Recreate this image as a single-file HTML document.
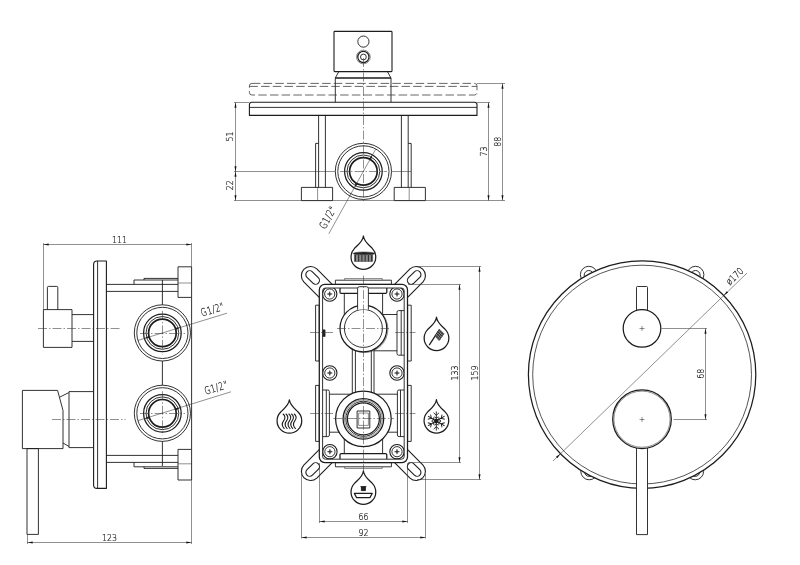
<!DOCTYPE html>
<html lang="en"><head><meta charset="utf-8"><title>Technical drawing</title>
<style>
html,body{margin:0;padding:0;background:#fff}
body{width:800px;height:565px;overflow:hidden}
svg{display:block;filter:grayscale(1)}
svg *{fill:none;stroke:#1c1c1c;stroke-linecap:butt;stroke-linejoin:round}
.k{stroke-width:1.25}
.kk{stroke-width:1.7}
.m{stroke-width:.9}
.n{stroke-width:.75}
.n2{stroke-width:1.1}
.t{stroke-width:.55;stroke:#333}
.c{stroke-width:.55;stroke:#333;stroke-dasharray:9 2 1.5 2}
.d{stroke-width:.75;stroke:#333;stroke-dasharray:8.5 3.2}
svg .a{fill:#111;stroke:none}
svg text{fill:#111;stroke:none;font-family:"DejaVu Sans Light","DejaVu Sans ExtraLight","Liberation Sans",sans-serif;font-weight:200;stroke:#111;stroke-width:.2}
</style></head><body>
<svg width="800" height="565" viewBox="0 0 800 565">
<rect class="n2" x="334" y="31.4" width="58" height="40.2" rx="0.8"/>
<circle class="m" cx="363.4" cy="41.6" r="5.6"/>
<circle class="t" cx="363.4" cy="57" r="6.9"/>
<circle class="k" cx="363.4" cy="57" r="5.6"/>
<circle class="m" cx="363.4" cy="57" r="2.9"/>
<path class="m" d="M338.8 71.6L335.3 78V102.2M387.4 71.6L391 78V102.2"/>
<line class="kk" x1="335.3" y1="78" x2="391" y2="78"/>
<rect class="d" x="249.4" y="83.4" width="227.6" height="11.6" rx="2.5"/>
<line class="d" x1="249.4" y1="86.4" x2="477" y2="86.4"/>
<path class="n2" d="M249.4 115.4V104.7Q249.4 102.2 251.9 102.2H474.5Q477 102.2 477 104.7V115.4Z"/>
<line class="m" x1="249.4" y1="107.4" x2="477" y2="107.4"/>
<path class="m" d="M318.6 115.4V187.4M325.4 115.4V187.4"/>
<path class="m" d="M318.6 143.4H315.6V187.4"/>
<rect class="m" x="301.4" y="187.4" width="31.2" height="13.2"/>
<line class="t" x1="317.6" y1="187.4" x2="317.6" y2="200.6"/>
<path class="m" d="M408.2 115.4V187.4M401.4 115.4V187.4"/>
<path class="m" d="M408.2 143.4H411.2V187.4"/>
<rect class="m" x="394.2" y="187.4" width="31.2" height="13.2"/>
<line class="t" x1="409.2" y1="187.4" x2="409.2" y2="200.6"/>
<line class="t" x1="234" y1="171.5" x2="411" y2="171.5"/>
<circle class="m" cx="363.4" cy="171.4" r="28.1" style="fill:#fff"/>
<circle class="m" cx="363.4" cy="171.4" r="25.6"/>
<circle class="k" cx="363.4" cy="171.4" r="18.8"/>
<circle class="m" cx="363.4" cy="171.4" r="16.4"/>
<circle class="kk" cx="363.4" cy="171.4" r="13.8"/>
<path class="a" d="M372.39 155.12L371.13 159.68L369.2 158.61Z"/>
<path class="a" d="M354.41 187.68L355.67 183.12L357.6 184.19Z"/>
<line class="c" x1="363.5" y1="58" x2="363.5" y2="201"/>
<line class="c" x1="340" y1="171.5" x2="387" y2="171.5"/>
<line class="t" x1="234" y1="102.5" x2="249" y2="102.5"/>
<line class="t" x1="234" y1="200.5" x2="505" y2="200.5"/>
<line class="t" x1="235.5" y1="102.5" x2="235.5" y2="200.5"/>
<path class="a" d="M235.5 102.5L236.5 107.7L234.5 107.7Z"/>
<path class="a" d="M235.5 171.5L234.5 166.3L236.5 166.3Z"/>
<path class="a" d="M235.5 171.5L236.5 176.7L234.5 176.7Z"/>
<path class="a" d="M235.5 200.5L234.5 195.3L236.5 195.3Z"/>
<text transform="translate(233.4 136.6) rotate(-90) scale(0.82 1)" font-size="9.6" text-anchor="middle">51</text>
<text transform="translate(233.4 185.3) rotate(-90) scale(0.82 1)" font-size="9.6" text-anchor="middle">22</text>
<line class="t" x1="477" y1="102.5" x2="490" y2="102.5"/>
<line class="t" x1="477" y1="83.5" x2="505" y2="83.5"/>
<line class="t" x1="488.5" y1="102.5" x2="488.5" y2="200.5"/>
<line class="t" x1="502.5" y1="83.5" x2="502.5" y2="200.5"/>
<path class="a" d="M488.5 102.5L489.5 107.7L487.5 107.7Z"/>
<path class="a" d="M488.5 200.5L487.5 195.3L489.5 195.3Z"/>
<path class="a" d="M502.5 83.5L503.5 88.7L501.5 88.7Z"/>
<path class="a" d="M502.5 200.5L501.5 195.3L503.5 195.3Z"/>
<text transform="translate(486.8 151.4) rotate(-90) scale(0.82 1)" font-size="9.6" text-anchor="middle">73</text>
<text transform="translate(500.8 141.8) rotate(-90) scale(0.82 1)" font-size="9.6" text-anchor="middle">88</text>
<line class="t" x1="375.6" y1="149.3" x2="328.8" y2="233.8"/>
<text transform="translate(331 219.2) rotate(-61) scale(0.72 1)" font-size="10.6" text-anchor="middle" letter-spacing="0.7">G1/2"</text>
<path class="n2" d="M93.6 264.5Q93.6 261 97.1 261H106.4V488.4H97.1Q93.6 488.4 93.6 484.9Z"/>
<line class="m" x1="97.6" y1="261" x2="97.6" y2="488.4"/>
<path class="m" d="M47.4 309.6V287.4Q47.4 286.4 48.4 286.4H56.8Q57.8 286.4 57.8 287.4V309.6"/>
<rect class="m" x="43.4" y="309.6" width="28.6" height="37.8"/>
<path class="m" d="M72 314.6H93.6M72 341.4H93.6"/>
<line class="c" x1="38" y1="328.5" x2="120" y2="328.5"/>
<path class="m" d="M22.4 390.4H57.6L63 410.5V448.6H22.4Z"/>
<path class="m" d="M60 397L68.8 392.6M63 443L69 446.5"/>
<path class="m" d="M93.6 391.6H69V447.6H93.6"/>
<rect class="m" x="27" y="448.6" width="11.4" height="85.8"/>
<line class="c" x1="52" y1="419.5" x2="125.6" y2="419.5"/>
<line class="m" x1="106.4" y1="284.4" x2="178" y2="284.4"/>
<line class="m" x1="106.4" y1="291.4" x2="178" y2="291.4"/>
<path class="m" d="M134 284.4V280H178M144 280V278.4H178"/>
<rect class="m" x="178" y="266.8" width="13.6" height="30.6"/>
<line class="t" x1="178" y1="283" x2="191.6" y2="283"/>
<line class="m" x1="106.4" y1="462.4" x2="178" y2="462.4"/>
<line class="m" x1="106.4" y1="455.4" x2="178" y2="455.4"/>
<path class="m" d="M134 462.4V466.8H178M144 466.8V468.4H178"/>
<rect class="m" x="178" y="449.4" width="13.6" height="30.6"/>
<line class="t" x1="178" y1="463.8" x2="191.6" y2="463.8"/>
<line class="m" x1="191.6" y1="297.4" x2="191.6" y2="449.4"/>
<line class="m" x1="162.4" y1="280" x2="162.4" y2="466"/>
<circle class="m" cx="162.4" cy="332.9" r="28.1" style="fill:#fff"/>
<circle class="m" cx="162.4" cy="332.9" r="25.6"/>
<circle class="k" cx="162.4" cy="332.9" r="18.8"/>
<circle class="m" cx="162.4" cy="332.9" r="16.4"/>
<circle class="kk" cx="162.4" cy="332.9" r="13.8"/>
<path class="a" d="M180.19 327.46L176.11 329.86L175.47 327.75Z"/>
<path class="a" d="M144.61 338.34L148.69 335.94L149.33 338.05Z"/>
<line class="c" x1="162.5" y1="310.9" x2="162.5" y2="354.9"/>
<line class="c" x1="140" y1="333.5" x2="185" y2="333.5"/>
<circle class="m" cx="162.4" cy="413.3" r="28.1" style="fill:#fff"/>
<circle class="m" cx="162.4" cy="413.3" r="25.6"/>
<circle class="k" cx="162.4" cy="413.3" r="18.8"/>
<circle class="m" cx="162.4" cy="413.3" r="16.4"/>
<circle class="kk" cx="162.4" cy="413.3" r="13.8"/>
<path class="a" d="M180.19 407.86L176.11 410.26L175.47 408.15Z"/>
<path class="a" d="M144.61 418.74L148.69 416.34L149.33 418.45Z"/>
<line class="c" x1="162.5" y1="391.3" x2="162.5" y2="435.3"/>
<line class="c" x1="140" y1="413.5" x2="185" y2="413.5"/>
<line class="t" x1="138" y1="340.4" x2="227" y2="313.2"/>
<text transform="translate(213.6 313) rotate(-17) scale(0.72 1)" font-size="10.6" text-anchor="middle" letter-spacing="0.7">G1/2"</text>
<line class="t" x1="138" y1="420.6" x2="231" y2="391.8"/>
<text transform="translate(217.2 391.2) rotate(-17) scale(0.72 1)" font-size="10.6" text-anchor="middle" letter-spacing="0.7">G1/2"</text>
<line class="t" x1="43.5" y1="243" x2="43.5" y2="309.6"/>
<line class="t" x1="191.5" y1="243" x2="191.5" y2="266.8"/>
<line class="t" x1="43.5" y1="244.5" x2="191.5" y2="244.5"/>
<path class="a" d="M43.5 244.5L48.7 243.5L48.7 245.5Z"/>
<path class="a" d="M191.5 244.5L186.3 245.5L186.3 243.5Z"/>
<text transform="translate(119.4 242.6) rotate(0) scale(0.82 1)" font-size="9.6" text-anchor="middle">111</text>
<line class="t" x1="27.5" y1="534.4" x2="27.5" y2="544"/>
<line class="t" x1="191.5" y1="480" x2="191.5" y2="544"/>
<line class="t" x1="27.5" y1="542.5" x2="191.5" y2="542.5"/>
<path class="a" d="M27.5 542.5L32.7 541.5L32.7 543.5Z"/>
<path class="a" d="M191.5 542.5L186.3 543.5L186.3 541.5Z"/>
<text transform="translate(109.4 541.2) rotate(0) scale(0.82 1)" font-size="9.6" text-anchor="middle">123</text>
<g transform="translate(363.4 373.5) scale(1 1) translate(-363.4 -373.5)">
<path class="n2" d="M407.6 297.3L423 281.9A9.2 9.2 0 0 0 410 268.9L394.6 284.3" style="fill:#fff"/>
<path class="n2" d="M414.4 271.85A3.85 3.85 0 0 1 419.8 277.35L413.9 283.15A3.85 3.85 0 0 1 408.5 277.65Z"/>
</g>
<g transform="translate(363.4 373.5) scale(1 -1) translate(-363.4 -373.5)">
<path class="n2" d="M407.6 297.3L423 281.9A9.2 9.2 0 0 0 410 268.9L394.6 284.3" style="fill:#fff"/>
<path class="n2" d="M414.4 271.85A3.85 3.85 0 0 1 419.8 277.35L413.9 283.15A3.85 3.85 0 0 1 408.5 277.65Z"/>
</g>
<g transform="translate(363.4 373.5) scale(-1 1) translate(-363.4 -373.5)">
<path class="n2" d="M407.6 297.3L423 281.9A9.2 9.2 0 0 0 410 268.9L394.6 284.3" style="fill:#fff"/>
<path class="n2" d="M414.4 271.85A3.85 3.85 0 0 1 419.8 277.35L413.9 283.15A3.85 3.85 0 0 1 408.5 277.65Z"/>
</g>
<g transform="translate(363.4 373.5) scale(-1 -1) translate(-363.4 -373.5)">
<path class="n2" d="M407.6 297.3L423 281.9A9.2 9.2 0 0 0 410 268.9L394.6 284.3" style="fill:#fff"/>
<path class="n2" d="M414.4 271.85A3.85 3.85 0 0 1 419.8 277.35L413.9 283.15A3.85 3.85 0 0 1 408.5 277.65Z"/>
</g>
<g transform="translate(0 373.5) scale(1 1) translate(0 -373.5)">
<rect class="m" x="335.4" y="280.2" width="56" height="4.2" style="fill:#fff"/>
<path class="t" d="M344.6 280.2V278.5H382.2V280.2"/>
</g>
<g transform="translate(0 373.5) scale(1 -1) translate(0 -373.5)">
<rect class="m" x="335.4" y="280.2" width="56" height="4.2" style="fill:#fff"/>
<path class="t" d="M344.6 280.2V278.5H382.2V280.2"/>
</g>
<g transform="translate(363.4 0) scale(1 1) translate(-363.4 0)">
<rect class="m" x="407.6" y="305.2" width="3.6" height="55.8"/>
<rect class="m" x="407.6" y="385.4" width="3.6" height="56"/>
</g>
<g transform="translate(363.4 0) scale(-1 1) translate(-363.4 0)">
<rect class="m" x="407.6" y="305.2" width="3.6" height="55.8"/>
<rect class="m" x="407.6" y="385.4" width="3.6" height="56"/>
</g>
<rect class="k" x="319.3" y="284.4" width="88.2" height="178.2" rx="5.5" style="fill:#fff"/>
<rect class="m" x="322.6" y="288" width="81.6" height="171.2" rx="2.8"/>
<clipPath id="ib"><rect x="322.6" y="288" width="81.6" height="171.2" rx="2.8"/></clipPath>
<g transform="translate(0 373.5) scale(1 1) translate(0 -373.5)">
<path class="k" d="M340 288V292.2Q340 293.4 341.2 293.4H385.6Q386.8 293.4 386.8 292.2V288"/>
<path class="m" d="M344.3 293.4V316M382.6 293.4V316"/>
</g>
<g transform="translate(0 373.5) scale(1 -1) translate(0 -373.5)">
<path class="k" d="M340 288V292.2Q340 293.4 341.2 293.4H385.6Q386.8 293.4 386.8 292.2V288"/>
<path class="m" d="M344.3 293.4V316M382.6 293.4V316"/>
</g>
<path class="m" d="M352.3 340V400M355.4 340V400M371.3 340V400M374 340V400"/>
<path class="m" d="M382.6 314.5H397M374 350.8H397M329.4 394.2H397.4M329.4 432.2H397.4"/>
<path class="m" d="M404.2 310.6H398.6Q397 310.6 397 312.2V353.6Q397 355.2 398.6 355.2H404.2M401.2 310.6V355.2"/>
<g transform="translate(363.4 0) scale(1 1) translate(-363.4 0)">
<path class="m" d="M404.2 390H399Q397.4 390 397.4 391.6V435Q397.4 436.6 399 436.6H404.2M400.5 390V436.6"/>
</g>
<g transform="translate(363.4 0) scale(-1 1) translate(-363.4 0)">
<path class="m" d="M404.2 390H399Q397.4 390 397.4 391.6V435Q397.4 436.6 399 436.6H404.2M400.5 390V436.6"/>
</g>
<rect class="k" x="323.3" y="330" width="1.5" height="6.2" style="fill:#222"/>
<circle class="n2" cx="329.7" cy="294" r="7.2" clip-path="url(#ib)"/>
<circle class="m" cx="329.7" cy="294" r="5.1" style="fill:#fff"/>
<path class="m" d="M327.2 294H332.2M329.7 291.5V296.5"/>
<circle class="t" cx="329.7" cy="294" r="1.1"/>
<circle class="n2" cx="397" cy="294" r="7.2" clip-path="url(#ib)"/>
<circle class="m" cx="397" cy="294" r="5.1" style="fill:#fff"/>
<path class="m" d="M394.5 294H399.5M397 291.5V296.5"/>
<circle class="t" cx="397" cy="294" r="1.1"/>
<circle class="n2" cx="329.8" cy="373" r="7.2" clip-path="url(#ib)"/>
<circle class="m" cx="329.8" cy="373" r="5.1" style="fill:#fff"/>
<path class="m" d="M327.3 373H332.3M329.8 370.5V375.5"/>
<circle class="t" cx="329.8" cy="373" r="1.1"/>
<circle class="n2" cx="397" cy="373" r="7.2" clip-path="url(#ib)"/>
<circle class="m" cx="397" cy="373" r="5.1" style="fill:#fff"/>
<path class="m" d="M394.5 373H399.5M397 370.5V375.5"/>
<circle class="t" cx="397" cy="373" r="1.1"/>
<circle class="n2" cx="329.9" cy="451.7" r="7.2" clip-path="url(#ib)"/>
<circle class="m" cx="329.9" cy="451.7" r="5.1" style="fill:#fff"/>
<path class="m" d="M327.4 451.7H332.4M329.9 449.2V454.2"/>
<circle class="t" cx="329.9" cy="451.7" r="1.1"/>
<circle class="n2" cx="397" cy="451.7" r="7.2" clip-path="url(#ib)"/>
<circle class="m" cx="397" cy="451.7" r="5.1" style="fill:#fff"/>
<path class="m" d="M394.5 451.7H399.5M397 449.2V454.2"/>
<circle class="t" cx="397" cy="451.7" r="1.1"/>
<circle class="t" cx="364.3" cy="329" r="23.6"/>
<circle class="k" cx="363.4" cy="328.4" r="23.4" style="fill:#fff"/>
<circle class="m" cx="363.4" cy="328.4" r="19"/>
<path class="m" d="M357.6 309.6V288.7Q357.6 286.7 359.6 286.7H366.4Q368.4 286.7 368.4 288.7V309.6" style="fill:#fff"/>
<circle class="k" cx="363.4" cy="418.8" r="27.8" style="fill:#fff"/>
<circle class="k" cx="363.4" cy="418.8" r="20.3"/>
<circle class="t" cx="363.4" cy="418.8" r="18.9"/>
<circle class="m" cx="363.4" cy="418.8" r="17.5"/>
<circle class="k" cx="363.4" cy="418.8" r="16"/>
<rect class="m" x="357.1" y="411" width="12.7" height="17"/>
<rect class="t" x="358.6" y="413.1" width="9.8" height="12.3"/>
<line class="c" x1="363.5" y1="275.6" x2="363.5" y2="471.5"/>
<line class="c" x1="337" y1="328.5" x2="389" y2="328.5"/>
<line class="c" x1="333.4" y1="418.5" x2="394" y2="418.5"/>
<line class="c" x1="310" y1="332.5" x2="333" y2="332.5"/>
<line class="c" x1="395" y1="332.5" x2="415.5" y2="332.5"/>
<line class="c" x1="310" y1="413.5" x2="333" y2="413.5"/>
<line class="c" x1="395" y1="413.5" x2="415.5" y2="413.5"/>
<line class="t" x1="319.5" y1="463" x2="319.5" y2="523"/>
<line class="t" x1="407.5" y1="463" x2="407.5" y2="523"/>
<line class="t" x1="319.5" y1="521.5" x2="407.5" y2="521.5"/>
<path class="a" d="M319.5 521.5L324.7 520.5L324.7 522.5Z"/>
<path class="a" d="M407.5 521.5L402.3 522.5L402.3 520.5Z"/>
<text transform="translate(363.4 520.2) rotate(0) scale(0.82 1)" font-size="9.6" text-anchor="middle">66</text>
<line class="t" x1="301.5" y1="474" x2="301.5" y2="538.5"/>
<line class="t" x1="425.5" y1="474" x2="425.5" y2="538.5"/>
<line class="t" x1="301.5" y1="537.5" x2="425.5" y2="537.5"/>
<path class="a" d="M301.5 537.5L306.7 536.5L306.7 538.5Z"/>
<path class="a" d="M425.5 537.5L420.3 538.5L420.3 536.5Z"/>
<text transform="translate(363.4 536.2) rotate(0) scale(0.82 1)" font-size="9.6" text-anchor="middle">92</text>
<line class="t" x1="408" y1="284.5" x2="461" y2="284.5"/>
<line class="t" x1="408" y1="462.5" x2="461" y2="462.5"/>
<line class="t" x1="459.5" y1="284.5" x2="459.5" y2="462.5"/>
<path class="a" d="M459.5 284.5L460.5 289.7L458.5 289.7Z"/>
<path class="a" d="M459.5 462.5L458.5 457.3L460.5 457.3Z"/>
<text transform="translate(457.6 373) rotate(-90) scale(0.82 1)" font-size="9.6" text-anchor="middle">133</text>
<line class="t" x1="417" y1="266.5" x2="481" y2="266.5"/>
<line class="t" x1="417" y1="479.5" x2="481" y2="479.5"/>
<line class="t" x1="479.5" y1="266.5" x2="479.5" y2="479.5"/>
<path class="a" d="M479.5 266.5L480.5 271.7L478.5 271.7Z"/>
<path class="a" d="M479.5 479.5L478.5 474.3L480.5 474.3Z"/>
<text transform="translate(478.2 373) rotate(-90) scale(0.82 1)" font-size="9.6" text-anchor="middle">159</text>
<path class="k" d="M363.4 236C363.7 241.2 369.37 245.4 372.28 248.42A12.35 12.35 0 1 1 354.52 248.42C357.43 245.4 363.1 241.2 363.4 236Z" style="fill:#fff"/>
<ellipse cx="363.9" cy="253.5" rx="10.7" ry="1.5" style="fill:#222;stroke:#222;stroke-width:.5"/>
<rect class="t" x="354.4" y="254.6" width="18.2" height="6.8" style="fill:#8a8a8a"/>
<line class="m" x1="355.4" y1="255" x2="355.4" y2="261.4"/>
<line class="m" x1="358.65" y1="255" x2="358.65" y2="261.4"/>
<line class="m" x1="361.9" y1="255" x2="361.9" y2="261.4"/>
<line class="m" x1="365.15" y1="255" x2="365.15" y2="261.4"/>
<line class="m" x1="368.4" y1="255" x2="368.4" y2="261.4"/>
<line class="m" x1="371.65" y1="255" x2="371.65" y2="261.4"/>
<path class="k" d="M436.5 317.2C436.8 322.4 442.47 326.6 445.38 329.62A12.35 12.35 0 1 1 427.62 329.62C430.53 326.6 436.2 322.4 436.5 317.2Z" style="fill:#fff"/>
<line class="k" x1="429.2" y1="345.2" x2="439.5" y2="329.4"/>
<path class="t" d="M439.5 329.4L443.9 333.6L439 340.6L435 335.9Z" style="fill:#888"/>
<line class="m" x1="438.94" y1="330.21" x2="443.34" y2="334.71"/>
<line class="m" x1="437.81" y1="331.84" x2="442.21" y2="336.34"/>
<line class="m" x1="436.69" y1="333.46" x2="441.09" y2="337.96"/>
<line class="m" x1="435.56" y1="335.09" x2="439.96" y2="339.59"/>
<line class="t" x1="440.97" y1="330.8" x2="436.37" y2="337.6"/>
<line class="t" x1="442.43" y1="332.2" x2="437.83" y2="339"/>
<line class="t" x1="443.9" y1="333.6" x2="439.3" y2="340.4"/>
<path class="k" d="M436.4 399.7C436.7 404.9 442.37 409.1 445.28 412.12A12.35 12.35 0 1 1 427.52 412.12C430.43 409.1 436.1 404.9 436.4 399.7Z" style="fill:#fff"/>
<circle class="k" cx="436.3" cy="421" r="1.6" style="fill:#333"/>
<g transform="translate(436.3 421) rotate(0)">
<path class="m" d="M0 0V-9.6M0 -5.6L-2.7 -8.2M0 -5.6L2.7 -8.2M0 -2.8L-2 -4.2M0 -2.8L2 -4.2"/>
</g>
<g transform="translate(436.3 421) rotate(60)">
<path class="m" d="M0 0V-9.6M0 -5.6L-2.7 -8.2M0 -5.6L2.7 -8.2M0 -2.8L-2 -4.2M0 -2.8L2 -4.2"/>
</g>
<g transform="translate(436.3 421) rotate(120)">
<path class="m" d="M0 0V-9.6M0 -5.6L-2.7 -8.2M0 -5.6L2.7 -8.2M0 -2.8L-2 -4.2M0 -2.8L2 -4.2"/>
</g>
<g transform="translate(436.3 421) rotate(180)">
<path class="m" d="M0 0V-9.6M0 -5.6L-2.7 -8.2M0 -5.6L2.7 -8.2M0 -2.8L-2 -4.2M0 -2.8L2 -4.2"/>
</g>
<g transform="translate(436.3 421) rotate(240)">
<path class="m" d="M0 0V-9.6M0 -5.6L-2.7 -8.2M0 -5.6L2.7 -8.2M0 -2.8L-2 -4.2M0 -2.8L2 -4.2"/>
</g>
<g transform="translate(436.3 421) rotate(300)">
<path class="m" d="M0 0V-9.6M0 -5.6L-2.7 -8.2M0 -5.6L2.7 -8.2M0 -2.8L-2 -4.2M0 -2.8L2 -4.2"/>
</g>
<path class="k" d="M289.4 399.8C289.7 405 295.37 409.2 298.28 412.22A12.35 12.35 0 1 1 280.52 412.22C283.43 409.2 289.1 405 289.4 399.8Z" style="fill:#fff"/>
<path class="n2" d="M282.8 413.8C285.5 415.8 285.5 418.4 283.6 420.9S281.8 426.2 284.5 428.8"/>
<path class="n2" d="M285.7 413.8C288.4 415.8 288.4 418.4 286.5 420.9S284.7 426.2 287.4 428.8"/>
<path class="n2" d="M288.6 413.8C291.3 415.8 291.3 418.4 289.4 420.9S287.6 426.2 290.3 428.8"/>
<path class="n2" d="M291.3 413.8C294 415.8 294 418.4 292.1 420.9S290.3 426.2 293 428.8"/>
<path class="n2" d="M294 413.8C296.7 415.8 296.7 418.4 294.8 420.9S293 426.2 295.7 428.8"/>
<path class="k" d="M363.4 471C363.7 476.2 369.37 480.4 372.28 483.42A12.35 12.35 0 1 1 354.52 483.42C357.43 480.4 363.1 476.2 363.4 471Z" style="fill:#fff"/>
<path class="k" d="M354.4 493.4H372.2L369.9 497.7H356.6Z"/>
<rect class="m" x="361.4" y="487" width="4" height="3.6" style="fill:#222"/>
<line class="m" x1="360.4" y1="486.6" x2="366.4" y2="486.6"/>
<circle class="m" cx="588.8" cy="274.7" r="8.4"/>
<circle class="m" cx="588.8" cy="275.1" r="4.6"/>
<circle class="m" cx="695.5" cy="274.7" r="8.4"/>
<circle class="m" cx="695.5" cy="275.1" r="4.6"/>
<circle class="m" cx="589.2" cy="471.4" r="8.4"/>
<circle class="m" cx="589.2" cy="471.8" r="4.6"/>
<circle class="m" cx="695.2" cy="471.4" r="8.4"/>
<circle class="m" cx="695.2" cy="471.8" r="4.6"/>
<circle class="k" cx="642.1" cy="374.6" r="113.7" style="fill:#fff"/>
<circle class="n" cx="642.1" cy="374.6" r="109.4"/>
<rect class="m" x="636.5" y="286.5" width="11" height="25.5" rx="0.9"/>
<circle class="k" cx="642" cy="328.4" r="18.8" style="fill:#fff"/>
<path class="t" d="M639.5 328.5H644.5M642 326V331"/>
<rect class="m" x="636.5" y="446" width="11" height="88.6" style="fill:#fff"/>
<circle class="k" cx="642" cy="419.2" r="29.3" style="fill:#fff"/>
<circle class="t" cx="642" cy="419.2" r="28.1"/>
<path class="t" d="M639.5 419.5H644.5M642 417V422"/>
<line class="t" x1="661.6" y1="328.5" x2="707" y2="328.5"/>
<line class="t" x1="673.6" y1="419.5" x2="707" y2="419.5"/>
<line class="t" x1="705.5" y1="328.5" x2="705.5" y2="419.5"/>
<path class="a" d="M705.5 328.5L706.5 333.7L704.5 333.7Z"/>
<path class="a" d="M705.5 419.5L704.5 414.3L706.5 414.3Z"/>
<text transform="translate(703.6 373.8) rotate(-90) scale(0.82 1)" font-size="9.6" text-anchor="middle">68</text>
<line class="t" x1="553" y1="461" x2="747" y2="273"/>
<path class="a" d="M723.7 295.5L726.74 291.16L728.13 292.6Z"/>
<path class="a" d="M560.4 453.8L557.36 458.14L555.97 456.7Z"/>
<text transform="translate(737 278.6) rotate(-44) scale(0.82 1)" font-size="9.6" text-anchor="middle">ø170</text>
</svg>
</body></html>
